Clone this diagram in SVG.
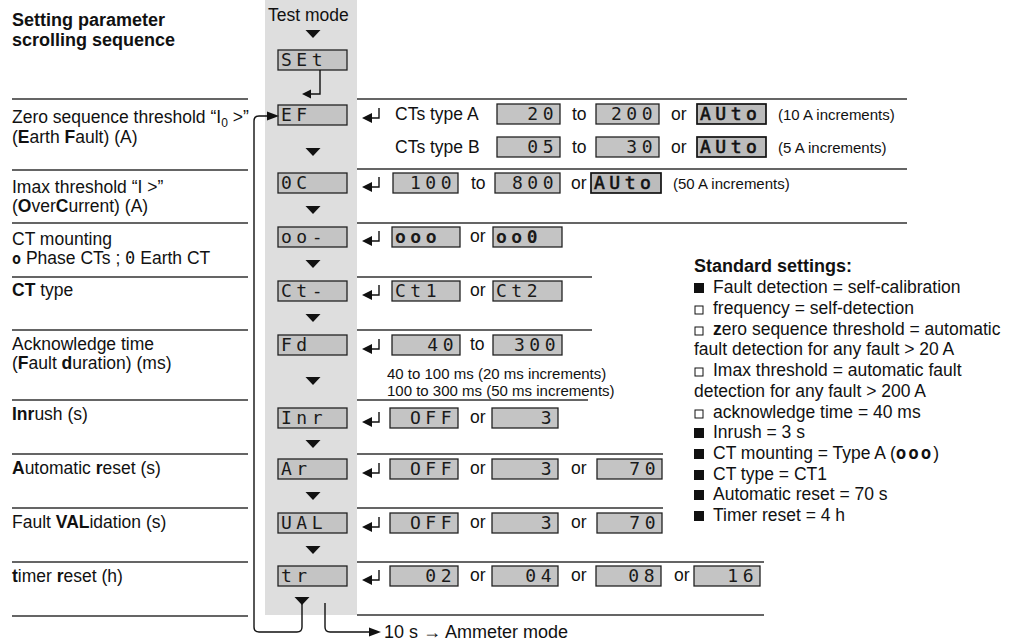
<svg xmlns="http://www.w3.org/2000/svg" xmlns:xlink="http://www.w3.org/1999/xlink" width="1027" height="644" viewBox="0 0 1027 644">
<defs>
<style>
text{font-family:"Liberation Sans",Arial,sans-serif;fill:#111}
.t{font-size:17.5px}
.s{font-size:15px}
.h{font-size:18px;font-weight:bold}
.b{font-weight:bold}
.lcd{font-family:"DejaVu Sans Mono",monospace;font-size:18px;letter-spacing:4.5px;fill:#1a1a1a}
.lcdb{font-family:"DejaVu Sans Mono",monospace;font-size:18px;letter-spacing:4.5px;fill:#111;stroke:#111;stroke-width:0.6}
.box{fill:#c4c4c4;stroke:#222;stroke-width:1.3}
.abox{fill:#bcbcbc;stroke:#111;stroke-width:1.7}
.rule{stroke:#333;stroke-width:1.3;fill:none}
.ln{stroke:#111;stroke-width:1.4;fill:none}
.tri{fill:#111}
</style>
<g id="ret">
<polygon points="0,0 10,-5 10,5" fill="#111"/>
<path d="M9,0 H17 V-10" stroke="#111" stroke-width="1.4" fill="none"/>
</g>
</defs>

<rect x="265" y="0" width="92" height="615" fill="#dedede"/>

<g id="title">
<text class="h" x="12" y="26">Setting parameter</text>
<text class="h" x="12" y="46">scrolling sequence</text>
</g>

<g id="rules">
<path class="rule" d="M12,99H248M12,170H248M12,223H248M12,277H248M12,330H248M12,400H248M12,454H248M12,508H248M12,562H248M12,616H248"/>
<path class="rule" d="M357,99H907M357,169H907M357,223H907M357,277H592M357,330H592M357,400H588M357,454H663M357,508H663M357,562H764M357,615H764"/>
</g>

<g id="labels">
<text class="t" x="12" y="123">Zero sequence threshold “I<tspan font-size="12" dy="4">0</tspan><tspan dy="-4"> &gt;”</tspan></text>
<text class="t" x="12" y="143">(<tspan class="b">E</tspan>arth <tspan class="b">F</tspan>ault) (A)</text>
<text class="t" x="12" y="193">Imax threshold “I &gt;”</text>
<text class="t" x="12" y="212">(<tspan class="b">O</tspan>ver<tspan class="b">C</tspan>urrent) (A)</text>
<text class="t" x="12" y="245">CT mounting</text>
<text class="t" x="12" y="264"><tspan font-family="DejaVu Sans Mono" font-weight="bold" font-size="15">o</tspan> Phase CTs ; <tspan font-family="DejaVu Sans Mono" font-size="17">0</tspan> Earth CT</text>
<text class="t" x="12" y="296"><tspan class="b">CT</tspan> type</text>
<text class="t" x="12" y="350">Acknowledge time</text>
<text class="t" x="12" y="369">(<tspan class="b">F</tspan>ault <tspan class="b">d</tspan>uration) (ms)</text>
<text class="t" x="12" y="420"><tspan class="b">Inr</tspan>ush (s)</text>
<text class="t" x="12" y="474"><tspan class="b">A</tspan>utomatic <tspan class="b">r</tspan>eset (s)</text>
<text class="t" x="12" y="528">Fault <tspan class="b">VAL</tspan>idation (s)</text>
<text class="t" x="12" y="582"><tspan class="b">t</tspan>imer <tspan class="b">r</tspan>eset (h)</text>
</g>

<g id="column">
<text class="t" x="268" y="21">Test mode</text>
<g id="n-set"><rect class="box" x="278" y="50" width="69" height="20"/><text class="lcd" x="281" y="66">SEt</text></g>
<g id="n-ef"><rect class="box" x="278" y="105" width="69" height="20"/><text class="lcd" x="281" y="121">EF</text></g>
<g id="n-oc"><rect class="box" x="278" y="173" width="69" height="20"/><text class="lcd" x="281" y="189">0C</text></g>
<g id="n-oo"><rect class="box" x="278" y="227" width="69" height="20"/><text class="lcd" x="281" y="243">oo-</text></g>
<g id="n-ct"><rect class="box" x="278" y="281" width="69" height="20"/><text class="lcd" x="281" y="297">Ct-</text></g>
<g id="n-fd"><rect class="box" x="278" y="335" width="69" height="20"/><text class="lcd" x="281" y="351">Fd</text></g>
<g id="n-inr"><rect class="box" x="278" y="408" width="69" height="20"/><text class="lcd" x="281" y="424">Inr</text></g>
<g id="n-ar"><rect class="box" x="278" y="459" width="69" height="20"/><text class="lcd" x="281" y="475">Ar</text></g>
<g id="n-val"><rect class="box" x="278" y="513" width="69" height="20"/><text class="lcd" x="281" y="529">UAL</text></g>
<g id="n-tr"><rect class="box" x="278" y="566" width="69" height="20"/><text class="lcd" x="281" y="582">tr</text></g>
</g>

<g id="connectors">
<g class="tri">
<polygon points="305.5,30 320.5,30 313,38"/>
<polygon points="305.5,148 320.5,148 313,156"/>
<polygon points="305.5,206 320.5,206 313,214"/>
<polygon points="305.5,260 320.5,260 313,268"/>
<polygon points="305.5,314 320.5,314 313,322"/>
<polygon points="305.5,377 320.5,377 313,385"/>
<polygon points="305.5,440 320.5,440 313,448"/>
<polygon points="305.5,492 320.5,492 313,500"/>
<polygon points="305.5,546 320.5,546 313,554"/>
<polygon points="294.5,597 309.5,597 302,605"/>
</g>
<path class="ln" d="M320,70V94H310"/>
<polygon class="tri" points="302,94 311,89.5 311,98.5"/>
<path class="ln" d="M302,604V627Q302,632 297,632H259Q254,632 254,627V121Q254,116 259,116H268"/>
<polygon class="tri" points="279,116 267,111.5 267,120.5"/>
<path class="ln" d="M325,603V627Q325,632 330,632H370"/>
<polygon class="tri" points="381,632 369,627.5 369,636.5"/>
<use xlink:href="#ret" x="362" y="118"/>
<use xlink:href="#ret" x="362" y="187"/>
<use xlink:href="#ret" x="362" y="241"/>
<use xlink:href="#ret" x="362" y="295"/>
<use xlink:href="#ret" x="362" y="349"/>
<use xlink:href="#ret" x="362" y="422"/>
<use xlink:href="#ret" x="362" y="473"/>
<use xlink:href="#ret" x="362" y="527"/>
<use xlink:href="#ret" x="362" y="580"/>
</g>
<text x="384" y="638" font-size="18">10 s → Ammeter mode</text>

<g id="v-ef">
<text class="t" x="395" y="120">CTs type A</text>
<rect class="box" x="497" y="104" width="63" height="20"/><text class="lcd" x="558" y="120" text-anchor="end">20</text>
<text class="t" x="572" y="120">to</text>
<rect class="box" x="596" y="104" width="63" height="20"/><text class="lcd" x="657" y="120" text-anchor="end">200</text>
<text class="t" x="671" y="120">or</text>
<rect class="abox" x="697" y="104" width="69" height="20"/><text class="lcdb" x="700" y="120">AUto</text>
<text class="s" x="778" y="120">(10 A increments)</text>
<text class="t" x="395" y="153">CTs type B</text>
<rect class="box" x="497" y="137" width="63" height="20"/><text class="lcd" x="558" y="153" text-anchor="end">05</text>
<text class="t" x="572" y="153">to</text>
<rect class="box" x="596" y="137" width="63" height="20"/><text class="lcd" x="657" y="153" text-anchor="end">30</text>
<text class="t" x="671" y="153">or</text>
<rect class="abox" x="697" y="137" width="69" height="20"/><text class="lcdb" x="700" y="153">AUto</text>
<text class="s" x="778" y="153">(5 A increments)</text>
</g>

<g id="v-oc">
<rect class="box" x="393" y="173" width="65" height="20"/><text class="lcd" x="456" y="189" text-anchor="end">100</text>
<text class="t" x="471" y="189">to</text>
<rect class="box" x="495" y="173" width="65" height="20"/><text class="lcd" x="558" y="189" text-anchor="end">800</text>
<text class="t" x="571" y="189">or</text>
<rect class="abox" x="591" y="173" width="70" height="20"/><text class="lcdb" x="594" y="189">AUto</text>
<text class="s" x="673" y="189">(50 A increments)</text>
</g>

<g id="v-oo">
<rect class="box" x="392" y="227" width="68" height="20"/><text class="lcd" x="395" y="243" font-weight="bold">ooo</text>
<text class="t" x="470" y="242">or</text>
<rect class="box" x="493" y="227" width="69" height="20"/><text class="lcd" x="496" y="243" font-weight="bold">oo0</text>
</g>

<g id="v-ct">
<rect class="box" x="392" y="281" width="68" height="20"/><text class="lcd" x="395" y="297">Ct1</text>
<text class="t" x="470" y="296">or</text>
<rect class="box" x="493" y="281" width="69" height="20"/><text class="lcd" x="496" y="297">Ct2</text>
</g>

<g id="v-fd">
<rect class="box" x="392" y="335" width="68" height="20"/><text class="lcd" x="458" y="351" text-anchor="end">40</text>
<text class="t" x="470" y="350">to</text>
<rect class="box" x="493" y="335" width="69" height="20"/><text class="lcd" x="560" y="351" text-anchor="end">300</text>
<text class="s" x="387" y="379">40 to 100 ms (20 ms increments)</text>
<text class="s" x="387" y="396">100 to 300 ms (50 ms increments)</text>
</g>

<g id="v-inr">
<rect class="box" x="390" y="408" width="68" height="20"/><text class="lcd" x="456" y="424" text-anchor="end">OFF</text>
<text class="t" x="470" y="423">or</text>
<rect class="box" x="492" y="408" width="66" height="20"/><text class="lcd" x="556" y="424" text-anchor="end">3</text>
</g>

<g id="v-ar">
<rect class="box" x="390" y="459" width="68" height="20"/><text class="lcd" x="456" y="475" text-anchor="end">OFF</text>
<text class="t" x="470" y="474">or</text>
<rect class="box" x="492" y="459" width="66" height="20"/><text class="lcd" x="556" y="475" text-anchor="end">3</text>
<text class="t" x="571" y="474">or</text>
<rect class="box" x="597" y="459" width="65" height="20"/><text class="lcd" x="660" y="475" text-anchor="end">70</text>
</g>

<g id="v-val">
<rect class="box" x="390" y="513" width="68" height="20"/><text class="lcd" x="456" y="529" text-anchor="end">OFF</text>
<text class="t" x="470" y="528">or</text>
<rect class="box" x="492" y="513" width="66" height="20"/><text class="lcd" x="556" y="529" text-anchor="end">3</text>
<text class="t" x="571" y="528">or</text>
<rect class="box" x="597" y="513" width="65" height="20"/><text class="lcd" x="660" y="529" text-anchor="end">70</text>
</g>

<g id="v-tr">
<rect class="box" x="390" y="566" width="68" height="20"/><text class="lcd" x="456" y="582" text-anchor="end">02</text>
<text class="t" x="470" y="581">or</text>
<rect class="box" x="492" y="566" width="66" height="20"/><text class="lcd" x="556" y="582" text-anchor="end">04</text>
<text class="t" x="571" y="581">or</text>
<rect class="box" x="596" y="566" width="65" height="20"/><text class="lcd" x="659" y="582" text-anchor="end">08</text>
<text class="t" x="674" y="581">or</text>
<rect class="box" x="694" y="566" width="66" height="20"/><text class="lcd" x="758" y="582" text-anchor="end">16</text>
</g>

<g id="standard">
<text class="b" x="694" y="272" font-size="18">Standard settings:</text>
<rect x="694" y="283" width="10" height="10" fill="#111"/>
<text class="t" x="713" y="293">Fault detection = self-calibration</text>
<rect x="695" y="306" width="8" height="8" fill="none" stroke="#111" stroke-width="1"/>
<text class="t" x="713" y="314">frequency = self-detection</text>
<rect x="695" y="327" width="8" height="8" fill="none" stroke="#111" stroke-width="1"/>
<text class="t" x="713" y="335"><tspan class="b">z</tspan>ero sequence threshold = automatic</text>
<text class="t" x="694" y="355">fault detection for any fault &gt; 20 A</text>
<rect x="695" y="368" width="8" height="8" fill="none" stroke="#111" stroke-width="1"/>
<text class="t" x="713" y="376">Imax threshold = automatic fault</text>
<text class="t" x="694" y="397">detection for any fault &gt; 200 A</text>
<rect x="695" y="410" width="8" height="8" fill="none" stroke="#111" stroke-width="1"/>
<text class="t" x="713" y="418">acknowledge time = 40 ms</text>
<rect x="694" y="428" width="10" height="10" fill="#111"/>
<text class="t" x="713" y="438">Inrush = 3 s</text>
<rect x="694" y="449" width="10" height="10" fill="#111"/>
<text class="t" x="713" y="459">CT mounting = Type A (<tspan font-family="DejaVu Sans Mono" font-weight="bold" letter-spacing="2">ooo</tspan>)</text>
<rect x="694" y="470" width="10" height="10" fill="#111"/>
<text class="t" x="713" y="480">CT type = CT1</text>
<rect x="694" y="490" width="10" height="10" fill="#111"/>
<text class="t" x="713" y="500">Automatic reset = 70 s</text>
<rect x="694" y="511" width="10" height="10" fill="#111"/>
<text class="t" x="713" y="521">Timer reset = 4 h</text>
</g>
</svg>
